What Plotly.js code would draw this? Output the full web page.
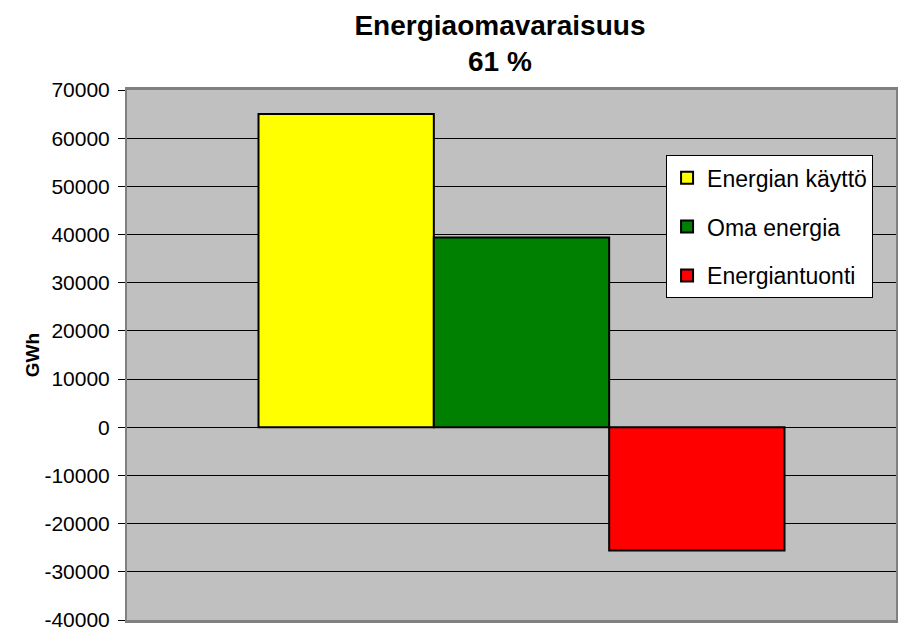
<!DOCTYPE html>
<html>
<head>
<meta charset="utf-8">
<script src="https://cdn.plot.ly/plotly-3.0.1.min.js"></script>
<style>html,body{margin:0;padding:0;background:#fff;}#chart{width:906px;height:630px;}</style>
</head>
<body>
<div id="chart"></div>
<script>
const categories = [""];
const seriesNames = ["Energian käyttö", "Oma energia", "Energiantuonti"];
const seriesColors = ["#FFFF00", "#008000", "#FF0000"];
const energianKaytto = [65000];
const omaEnergia = [39400];
const energiantuonti = [-25600];
const tickVals = [70000, 60000, 50000, 40000, 30000, 20000, 10000, 0, -10000, -20000, -30000, -40000];
const tickText = ["70000", "60000", "50000", "40000", "30000", "20000", "10000", "0", "-10000", "-20000", "-30000", "-40000"];
const titleText = "Energiaomavaraisuus<br>61 %";
const yTitle = "GWh";

const values = [energianKaytto, omaEnergia, energiantuonti];
const traces = values.map((v, i) => ({
  type: "bar",
  x: categories,
  y: v,
  name: seriesNames[i],
  legendgroup: "g" + i,
  marker: { color: seriesColors[i], line: { color: "#000", width: 2 } },
  hoverinfo: "none"
}));

const font = "Liberation Sans, Arial, sans-serif";
const layout = {
  width: 906, height: 630,
  margin: { l: 127, r: 10, t: 90, b: 10 },
  paper_bgcolor: "#ffffff",
  plot_bgcolor: "#C0C0C0",
  font: { family: font, size: 20, color: "#000" },
  title: {
    text: titleText,
    font: { family: font, size: 28, color: "#000", weight: "bold" },
    x: 0.485, xanchor: "center", xref: "paper",
    y: 0.945, yanchor: "middle", yref: "container"
  },
  barmode: "group",
  bargap: 0.316,
  bargroupgap: 0,
  showlegend: true,
  legend: {
    x: 0.701, y: 0.877, xanchor: "left", yanchor: "top",
    bgcolor: "#ffffff", bordercolor: "#000", borderwidth: 1,
    font: { family: font, size: 23, color: "#000" },
    traceorder: "grouped", tracegroupgap: 16,
    itemwidth: 30
  },
  xaxis: {
    range: [-0.513, 0.487],
    showticklabels: false, showgrid: false, zeroline: false,
    showline: true, linecolor: "#808080", linewidth: 3, mirror: true,
    ticks: "", fixedrange: true
  },
  yaxis: {
    range: [-40000, 70000],
    tickvals: tickVals, ticktext: tickText,
    ticks: "outside", ticklen: 7, tickcolor: "#000", tickwidth: 1,
    ticklabelstandoff: 4, ticklabeloverflow: "allow",
    showgrid: true, gridcolor: "#000", gridwidth: 1,
    zeroline: true, zerolinecolor: "#000", zerolinewidth: 1,
    showline: true, linecolor: "#808080", linewidth: 2, mirror: true,
    tickfont: { family: font, size: 21, color: "#000" },
    title: { text: yTitle, font: { family: font, size: 19, color: "#000", weight: "bold" }, standoff: 0 },
    fixedrange: true
  }
};

Plotly.newPlot("chart", traces, layout, { displayModeBar: false, staticPlot: true });
</script>
</body>
</html>
